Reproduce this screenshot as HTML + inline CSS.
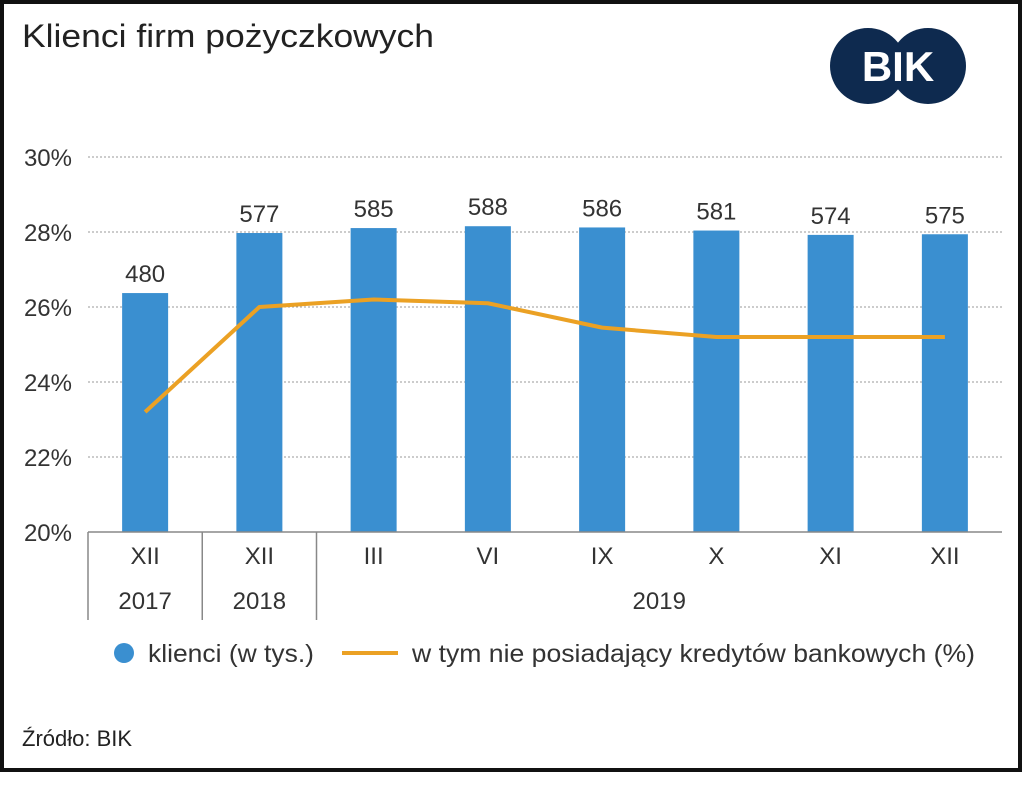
<!DOCTYPE html>
<html><head><meta charset="utf-8"><style>
body{margin:0;background:#fff;}
svg{display:block;font-family:"Liberation Sans","DejaVu Sans",sans-serif;}
</style></head><body>
<svg id="chart" width="1024" height="786">
<rect x="2" y="2" width="1018" height="768" fill="#fff" stroke="#111" stroke-width="4"/>
<text x="22" y="47" font-size="32" fill="#222" textLength="412" lengthAdjust="spacingAndGlyphs">Klienci firm pożyczkowych</text>
<g>
<circle cx="868" cy="66" r="38" fill="#0e2a4f"/><circle cx="928" cy="66" r="38" fill="#0e2a4f"/>
<text x="898" y="81" font-size="42" font-weight="bold" fill="#fff" text-anchor="middle">BIK</text>
</g>
<g id="grid"></g><g id="bars"></g><g id="line"></g><g id="axis"></g>
<g>
<circle cx="124" cy="653" r="10" fill="#3a8fd0"/>
<text x="148" y="662" font-size="25" fill="#333" textLength="166" lengthAdjust="spacingAndGlyphs">klienci (w tys.)</text>
<line x1="342" y1="653" x2="398" y2="653" stroke="#eba124" stroke-width="4"/>
<text x="412" y="662" font-size="25" fill="#333" textLength="563" lengthAdjust="spacingAndGlyphs">w tym nie posiadający kredytów bankowych (%)</text>
</g>
<text x="22" y="746" font-size="22" fill="#222">Źródło: BIK</text>
</svg>
<script>
const categories=["XII","XII","III","VI","IX","X","XI","XII"];
const years=["2017","2018","2019"];
const clients=[480,577,585,588,586,581,574,575];
const pctNoBank=[23.2,26.0,26.2,26.1,25.45,25.2,25.2,25.2];
const yTicks=[20,22,24,26,28,30];
const NS="http://www.w3.org/2000/svg";
function mk(t,a,p){const e=document.createElementNS(NS,t);for(const k in a)e.setAttribute(k,a[k]);p.appendChild(e);return e;}
const x0=88,x1=1002,y0=532,band=(x1-x0)/categories.length;
const yP=v=>y0-(v-20)*37.5;
const yB=v=>y0-(v-94)*0.619;
const xc=i=>x0+band*(i+0.5);
const grid=document.getElementById('grid');
yTicks.forEach(t=>{
 if(t>20){const l=mk('line',{x1:x0,x2:x1,y1:yP(t),y2:yP(t),stroke:'#999','stroke-width':1,'stroke-dasharray':'2,2'},grid);
 }
 const tx=mk('text',{x:72,y:yP(t)+9,'font-size':24,fill:'#333','text-anchor':'end'},grid);tx.textContent=t+'%';
 
});
const bars=document.getElementById('bars');
clients.forEach((v,i)=>{
 const r=mk('rect',{x:xc(i)-23,y:yB(v),width:46,height:y0-yB(v),fill:'#3a8fd0'},bars);
 
 const t=mk('text',{x:xc(i),y:yB(v)-11,'font-size':24,fill:'#333','text-anchor':'middle'},bars);t.textContent=v;
 
});
const ln=mk('polyline',{points:pctNoBank.map((v,i)=>xc(i)+','+yP(v)).join(' '),fill:'none',stroke:'#eba124','stroke-width':4,'stroke-linejoin':'round'},document.getElementById('line'));

const ax=document.getElementById('axis');
const axl=mk('path',{d:`M${x0},${y0}H${x1}M${x0},${y0}V620M${x0+band},${y0}V620M${x0+2*band},${y0}V620`,stroke:'#888','stroke-width':1.5,fill:'none'},ax);

categories.forEach((c,i)=>{const t=mk('text',{x:xc(i),y:564,'font-size':24,fill:'#333','text-anchor':'middle'},ax);t.textContent=c;
 });
[[0,1],[1,2],[2,8]].forEach((s,j)=>{const t=mk('text',{x:x0+band*(s[0]+s[1])/2,y:609,'font-size':24,fill:'#333','text-anchor':'middle'},ax);t.textContent=years[j];
 });
</script>
</body></html>
